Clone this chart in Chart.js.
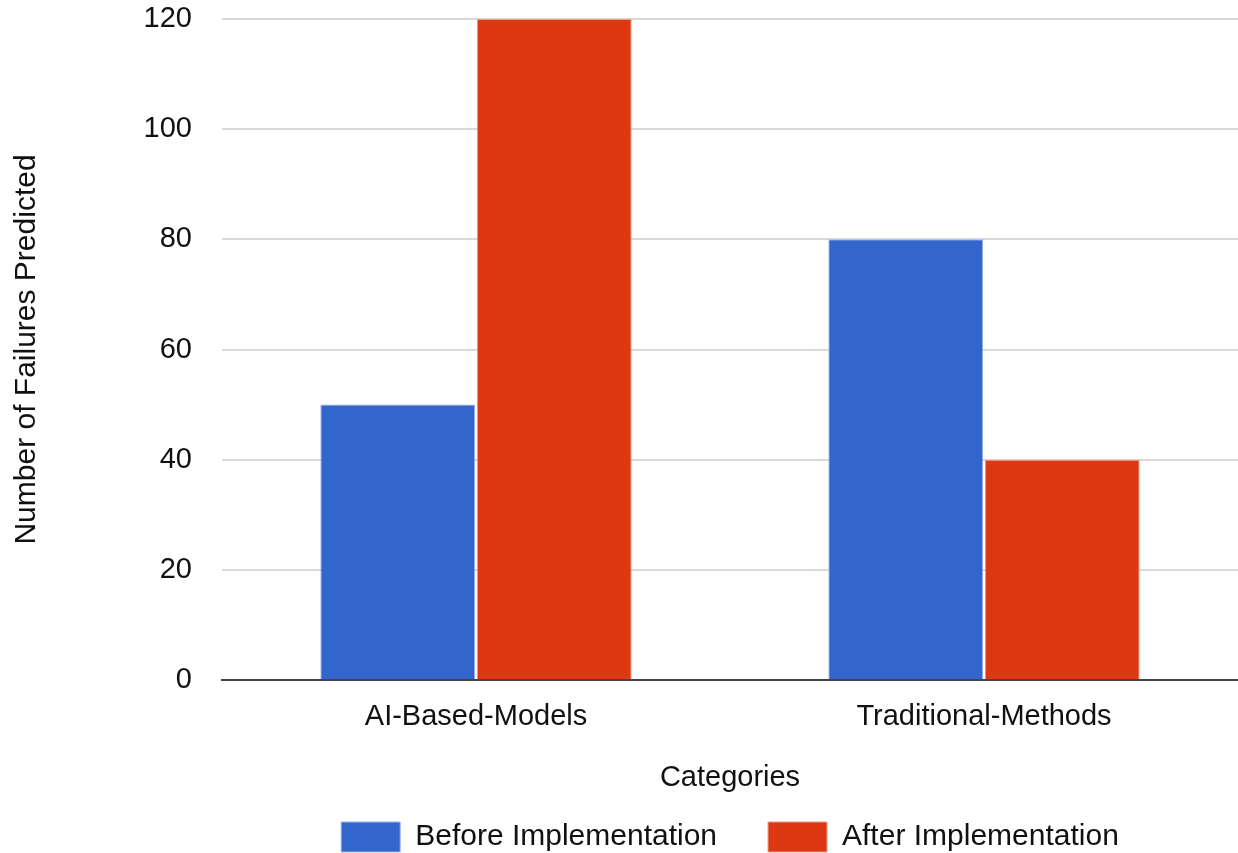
<!DOCTYPE html>
<html>
<head>
<meta charset="utf-8">
<script src="https://cdn.jsdelivr.net/npm/chart.js@4.4.1/dist/chart.umd.min.js"></script>
<style>
  html, body { margin: 0; padding: 0; background: #ffffff; }
  #wrap { width: 1238px; height: 853px; position: relative; }
</style>
</head>
<body>
<div id="wrap"><canvas id="chart"></canvas></div>
<script>
// Chart data
const categories = ['AI-Based-Models', 'Traditional-Methods'];
const beforeImplementation = [50, 80];
const afterImplementation = [120, 40];
const seriesNames = ['Before Implementation', 'After Implementation'];
const yTicks = [0, 20, 40, 60, 80, 100, 120];

const FONT = "'Liberation Sans', Arial, Helvetica, sans-serif";
const TEXT = '#111111';

// Centre the legend under the plot area and pin it near the bottom edge
const legendPlacement = {
  id: 'legendPlacement',
  beforeDraw(chart) {
    const lg = chart.legend;
    if (!lg) return;
    lg.left = chart.chartArea.left;
    lg.right = chart.chartArea.right;
    const pad = lg.options.labels.padding;
    lg.top = chart.height - 31 - pad;
  }
};

new Chart(document.getElementById('chart'), {
  type: 'bar',
  data: {
    labels: categories,
    datasets: [
      {
        label: seriesNames[0],
        data: beforeImplementation,
        backgroundColor: '#3366cc',
        borderColor: '#9db3ea',
        borderWidth: 1,
        categoryPercentage: 0.616,
        barPercentage: 0.99
      },
      {
        label: seriesNames[1],
        data: afterImplementation,
        backgroundColor: '#dc3912',
        borderColor: '#ef9a86',
        borderWidth: 1,
        categoryPercentage: 0.616,
        barPercentage: 0.99
      }
    ]
  },
  options: {
    responsive: true,
    maintainAspectRatio: false,
    animation: false,
    layout: { padding: { top: 19, right: 0, bottom: 0, left: 0 } },
    plugins: {
      legend: {
        position: 'bottom',
        labels: {
          boxWidth: 59,
          boxHeight: 30,
          padding: 51,
          color: TEXT,
          font: { family: FONT, size: 30 }
        }
      },
      tooltip: { enabled: false }
    },
    scales: {
      x: {
        grid: { display: false, drawTicks: false },
        border: { display: true, color: '#444444', width: 2 },
        ticks: {
          color: TEXT,
          padding: 20,
          font: { family: FONT, size: 29 }
        },
        title: {
          display: true,
          text: 'Categories',
          color: TEXT,
          font: { family: FONT, size: 29 },
          padding: { top: 0, bottom: -33 }
        },
        afterFit(scale) { scale.height = 82; }
      },
      y: {
        min: 0,
        max: 120,
        afterBuildTicks(scale) { scale.ticks = yTicks.map(v => ({ value: v })); },
        grid: {
          drawTicks: false,
          color: (ctx) => (ctx.tick && ctx.tick.value === 0) ? '#444444' : '#d9d9d9',
          lineWidth: 2
        },
        border: { display: false },
        ticks: {
          color: TEXT,
          padding: 30,
          font: { family: FONT, size: 29 }
        },
        title: {
          display: true,
          text: 'Number of Failures Predicted',
          color: TEXT,
          font: { family: FONT, size: 30 },
          padding: { top: 9, bottom: 0 }
        },
        afterFit(scale) {
          scale.width = 222;
          // the label gap is horizontal only; keep it out of the vertical layout
          scale.paddingTop = 0;
          scale.paddingBottom = 0;
        }
      }
    }
  },
  plugins: [legendPlacement]
});
</script>
</body>
</html>
